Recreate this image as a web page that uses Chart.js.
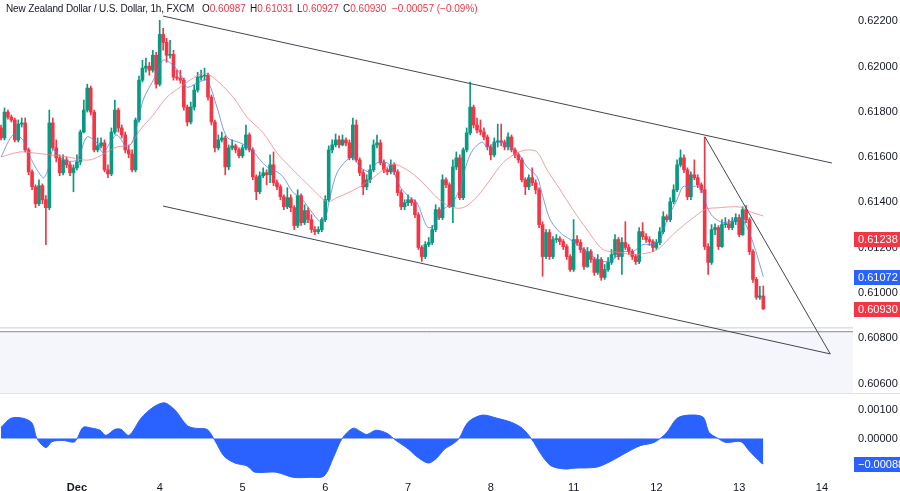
<!DOCTYPE html>
<html>
<head>
<meta charset="utf-8">
<script src="https://cdn.jsdelivr.net/npm/chart.js@4.4.0/dist/chart.umd.min.js"></script>
<style>
  body { margin: 0; background: #fff; font-family: "Liberation Sans", Arial, sans-serif; }
  #wrap { position: relative; width: 900px; height: 491px; overflow: hidden; }
  #priceCanvas { position: absolute; left: 0; top: 0; }
  #oscCanvas { position: absolute; left: 0; top: 394px; }
  #sep { position: absolute; left: 0; top: 393px; width: 900px; height: 1px; background: #e0e3eb; }
  .lg { position: absolute; top: 2px; font-size: 10px; line-height: 13px; color: #131722; white-space: nowrap; }
  .lg .v { color: #f23645; }
</style>
</head>
<body>
<div id="wrap">
  <canvas id="priceCanvas" width="900" height="394"></canvas>
  <div id="sep"></div>
  <canvas id="oscCanvas" width="900" height="97"></canvas>
  <div class="lg" style="left:6px;letter-spacing:-0.15px">New Zealand Dollar / U.S. Dollar, 1h, FXCM</div>
  <div class="lg" style="left:202px">O<span class="v">0.60987</span></div>
  <div class="lg" style="left:250px">H<span class="v">0.61031</span></div>
  <div class="lg" style="left:297px">L<span class="v">0.60927</span></div>
  <div class="lg" style="left:343px">C<span class="v">0.60930</span></div>
  <div class="lg" style="left:392px"><span class="v">−0.00057 (−0.09%)</span></div>
</div>
<script>
// hourly candles, index 0 = Nov 30 ~02:00, Dec 1 00:00 = 22
firstOpen = 0.61729;
closes = [
0.61685,0.61799,0.61777,0.61764,0.61676,0.61746,0.61751,0.61632,0.61535,0.61469,
0.61394,0.61474,0.61412,0.61377,0.61751,0.61641,0.61597,0.61531,0.61588,0.61566,
0.61531,0.61553,0.61579,0.61711,0.61808,0.61905,0.61799,0.61632,0.61650,0.61663,
0.61544,0.61526,0.61711,0.61808,0.61729,0.61698,0.61632,0.61614,0.61544,0.61764,
0.61940,0.61993,0.62002,0.61984,0.62050,0.61922,0.62142,0.62107,0.62050,0.62054,
0.61953,0.61949,0.61940,0.61821,0.61755,0.61821,0.61896,0.61953,0.61958,0.61962,
0.61865,0.61755,0.61641,0.61676,0.61685,0.61557,0.61641,0.61650,0.61632,0.61606,
0.61641,0.61698,0.61632,0.61513,0.61447,0.61518,0.61531,0.61522,0.61566,0.61487,
0.61469,0.61425,0.61381,0.61421,0.61377,0.61298,0.61430,0.61311,0.61364,0.61324,
0.61280,0.61271,0.61280,0.61324,0.61412,0.61632,0.61654,0.61676,0.61654,0.61676,
0.61663,0.61597,0.61742,0.61588,0.61531,0.61469,0.61500,0.61544,0.61654,0.61663,
0.61575,0.61544,0.61535,0.61566,0.61535,0.61443,0.61381,0.61399,0.61412,0.61399,
0.61346,0.61201,0.61161,0.61214,0.61223,0.61280,0.61368,0.61333,0.61500,0.61478,
0.61381,0.61557,0.61597,0.61421,0.61632,0.61707,0.61821,0.61742,0.61720,0.61711,
0.61689,0.61645,0.61610,0.61667,0.61672,0.61667,0.61645,0.61689,0.61632,0.61610,
0.61588,0.61500,0.61469,0.61509,0.61487,0.61456,0.61302,0.61161,0.61267,0.61161,
0.61236,0.61240,0.61227,0.61205,0.61161,0.61104,0.61236,0.61223,0.61192,0.61117,
0.61183,0.61148,0.61091,0.61148,0.61069,0.61104,0.61135,0.61170,0.61236,0.61161,
0.61223,0.61201,0.61183,0.61161,0.61139,0.61271,0.61249,0.61236,0.61227,0.61201,
0.61223,0.61271,0.61337,0.61324,0.61403,0.61456,0.61566,0.61597,0.61544,0.61425,
0.61522,0.61509,0.61478,0.61456,0.61205,0.61135,0.61280,0.61289,0.61205,0.61302,
0.61306,0.61289,0.61315,0.61333,0.61258,0.61368,0.61324,0.61183,0.61060,0.60981,
0.60987,0.60930
];
highs = [
0.61742,0.61817,0.61808,0.61786,0.61773,0.61764,0.61773,0.61773,0.61641,0.61544,
0.61478,0.61500,0.61482,0.61430,0.61808,0.61773,0.61676,0.61610,0.61610,0.61601,
0.61579,0.61566,0.61610,0.61720,0.61852,0.61922,0.61914,0.61808,0.61685,0.61685,
0.61676,0.61566,0.61729,0.61852,0.61817,0.61742,0.61711,0.61654,0.61632,0.61773,
0.61958,0.62028,0.62037,0.62019,0.62072,0.62063,0.62204,0.62169,0.62125,0.62116,
0.62072,0.61984,0.61984,0.61949,0.61830,0.61843,0.61918,0.61975,0.61984,0.61993,
0.61971,0.61874,0.61764,0.61698,0.61711,0.61694,0.61654,0.61676,0.61658,0.61641,
0.61654,0.61742,0.61707,0.61641,0.61522,0.61535,0.61553,0.61544,0.61610,0.61623,
0.61500,0.61478,0.61434,0.61465,0.61434,0.61386,0.61456,0.61438,0.61390,0.61377,
0.61346,0.61293,0.61293,0.61333,0.61430,0.61650,0.61676,0.61702,0.61694,0.61698,
0.61685,0.61676,0.61773,0.61764,0.61597,0.61544,0.61522,0.61566,0.61676,0.61698,
0.61676,0.61588,0.61553,0.61588,0.61575,0.61544,0.61456,0.61412,0.61434,0.61421,
0.61412,0.61355,0.61210,0.61227,0.61245,0.61298,0.61390,0.61377,0.61522,0.61509,
0.61487,0.61588,0.61623,0.61610,0.61641,0.61729,0.61931,0.61830,0.61773,0.61764,
0.61729,0.61698,0.61654,0.61685,0.61746,0.61746,0.61676,0.61707,0.61698,0.61641,
0.61619,0.61597,0.61509,0.61522,0.61553,0.61500,0.61465,0.61315,0.61280,0.61280,
0.61249,0.61258,0.61249,0.61236,0.61214,0.61170,0.61324,0.61254,0.61236,0.61201,
0.61201,0.61192,0.61157,0.61170,0.61157,0.61126,0.61157,0.61192,0.61258,0.61245,
0.61245,0.61315,0.61214,0.61192,0.61170,0.61289,0.61311,0.61262,0.61249,0.61236,
0.61236,0.61289,0.61359,0.61346,0.61421,0.61478,0.61588,0.61632,0.61610,0.61553,
0.61535,0.61588,0.61522,0.61487,0.61689,0.61218,0.61302,0.61306,0.61298,0.61324,
0.61333,0.61324,0.61333,0.61350,0.61346,0.61381,0.61386,0.61333,0.61192,0.61069,
0.61029,0.61031
];
lows = [
0.61676,0.61676,0.61768,0.61755,0.61667,0.61667,0.61733,0.61623,0.61522,0.61456,
0.61377,0.61386,0.61394,0.61214,0.61368,0.61632,0.61579,0.61518,0.61522,0.61553,
0.61518,0.61447,0.61544,0.61566,0.61707,0.61799,0.61786,0.61623,0.61623,0.61641,
0.61535,0.61509,0.61518,0.61702,0.61711,0.61685,0.61619,0.61597,0.61535,0.61535,
0.61755,0.61931,0.61975,0.61962,0.61975,0.61905,0.61914,0.62072,0.62019,0.62037,
0.61940,0.61940,0.61927,0.61808,0.61738,0.61746,0.61808,0.61887,0.61940,0.61940,
0.61852,0.61742,0.61623,0.61632,0.61667,0.61522,0.61544,0.61632,0.61619,0.61597,
0.61597,0.61632,0.61623,0.61500,0.61412,0.61438,0.61509,0.61478,0.61487,0.61474,
0.61456,0.61412,0.61368,0.61372,0.61359,0.61280,0.61289,0.61298,0.61302,0.61311,
0.61267,0.61258,0.61262,0.61271,0.61315,0.61403,0.61619,0.61645,0.61641,0.61650,
0.61650,0.61588,0.61588,0.61579,0.61518,0.61434,0.61456,0.61487,0.61535,0.61641,
0.61566,0.61531,0.61522,0.61526,0.61522,0.61430,0.61368,0.61368,0.61386,0.61386,
0.61333,0.61192,0.61139,0.61152,0.61205,0.61214,0.61271,0.61324,0.61324,0.61465,
0.61377,0.61311,0.61544,0.61412,0.61412,0.61623,0.61698,0.61729,0.61707,0.61698,
0.61676,0.61632,0.61588,0.61601,0.61645,0.61650,0.61632,0.61632,0.61623,0.61597,
0.61575,0.61491,0.61434,0.61456,0.61474,0.61438,0.61289,0.61074,0.61152,0.61148,
0.61152,0.61223,0.61214,0.61192,0.61148,0.61095,0.61095,0.61210,0.61179,0.61104,
0.61113,0.61135,0.61078,0.61082,0.61056,0.61060,0.61095,0.61126,0.61157,0.61148,
0.61082,0.61192,0.61170,0.61148,0.61126,0.61130,0.61236,0.61223,0.61210,0.61183,
0.61192,0.61214,0.61262,0.61315,0.61315,0.61394,0.61447,0.61557,0.61531,0.61412,
0.61412,0.61500,0.61465,0.61443,0.61192,0.61082,0.61126,0.61258,0.61192,0.61201,
0.61289,0.61280,0.61280,0.61302,0.61249,0.61254,0.61311,0.61170,0.61047,0.60972,
0.60972,0.60927
];

// moving averages: [candle index, price]
fastMA = [
[0,0.61601],[3.5,0.61698],[6.4,0.61676],[8.4,0.61601],[12.2,0.61509],[13.6,0.61544],[15.1,0.61632],
[18,0.61588],[22,0.61588],[24.9,0.61689],[27.8,0.61663],[29.6,0.61619],[31.6,0.61663],[33.6,0.61698],
[36.5,0.61645],[38.3,0.61676],[41.2,0.61852],[44.6,0.61953],[47,0.62028],[49.9,0.62006],[52.5,0.61953],
[53.9,0.61909],[56.8,0.61927],[59.7,0.61940],[62.6,0.61821],[65.5,0.61689],[69.3,0.61663],[72.2,0.61641],
[75.1,0.61588],[77.1,0.61557],[80,0.61535],[81.8,0.61513],[84.7,0.61443],[86.7,0.61425],[89.6,0.61368],
[92.5,0.61315],[93.9,0.61324],[95.4,0.61425],[97.4,0.61531],[100.3,0.61588],[102,0.61601],[104.1,0.61557],
[107,0.61535],[109,0.61575],[111.9,0.61575],[113.6,0.61544],[115.7,0.61469],[118.6,0.61421],[120.6,0.61399],
[123.5,0.61293],[125.2,0.61293],[128.1,0.61368],[131,0.61399],[133.1,0.61469],[135.1,0.61575],[136.8,0.61632],
[139.5,0.61667],[140.9,0.61645],[143.8,0.61667],[146.7,0.61654],[149.6,0.61623],[152.5,0.61557],[155.4,0.61513],
[157.1,0.61425],[159.2,0.61324],[162.1,0.61267],[165,0.61236],[167.9,0.61205],[170.8,0.61170],[174.5,0.61139],
[177.4,0.61148],[180.3,0.61183],[183.2,0.61183],[186.1,0.61214],[189,0.61214],[191.1,0.61236],[193.1,0.61324],
[196,0.61412],[197.7,0.61469],[199.8,0.61469],[202.7,0.61469],[204.7,0.61381],[206.4,0.61337],[209.3,0.61311],
[213.4,0.61324],[215.1,0.61324],[218,0.61223],[221,0.61072]
];
slowMA = [
[0,0.61601],[5.5,0.61623],[9.3,0.61619],[19.1,0.61601],[25.8,0.61588],[33.6,0.61645],[37.4,0.61654],
[40.3,0.61720],[44.1,0.61786],[48.1,0.61865],[51.9,0.61909],[55.7,0.61949],[58.6,0.61971],[61.5,0.61953],
[67.3,0.61865],[71.3,0.61777],[76,0.61707],[80,0.61619],[83.8,0.61557],[86.7,0.61513],[90.5,0.61456],
[94.5,0.61403],[97.4,0.61421],[101.2,0.61447],[105,0.61478],[109,0.61522],[112.8,0.61566],[114.8,0.61566],
[118.6,0.61535],[122.3,0.61487],[126.4,0.61421],[130.2,0.61381],[134,0.61377],[138,0.61425],[141.8,0.61500],
[145.5,0.61575],[149.6,0.61619],[152.5,0.61632],[155.4,0.61623],[158.3,0.61544],[162.1,0.61456],[165.8,0.61368],
[169.9,0.61280],[174.5,0.61192],[179.5,0.61179],[183.2,0.61170],[188.2,0.61179],[191.1,0.61201],[194.8,0.61258],
[198.9,0.61311],[202.7,0.61355],[204.7,0.61372],[208.5,0.61377],[212.2,0.61381],[215.1,0.61377],[217.2,0.61359],
[221,0.61340]
];

// oscillator (lower pane): [candle index, value]
oscValues = [
[0,0.00039],[2.9,0.00071],[6.4,0.00071],[9,0.00054],[10.4,0],[13,-0.00032],[14.8,-0.00011],[18,-0.00007],
[21.4,-0.00011],[23.8,0.00039],[26.4,0.00036],[28.7,0.00029],[30.4,0.00011],[33,0.00032],[34.8,0.00032],
[37.1,0.00011],[40.6,0.00071],[43.8,0.00107],[47.3,0.00125],[50.4,0.00100],[53.9,0.00046],[56.2,0.00036],
[59.7,0.00032],[62,-0.00007],[64.6,-0.00061],[67.8,-0.00086],[71.3,-0.00096],[73.6,-0.00118],[79.7,-0.00118],
[84.7,-0.00136],[89.6,-0.00136],[93.6,-0.00132],[96.3,-0.00068],[98.9,0],[102.1,0.00036],[104.7,0.00021],
[106.1,0.00014],[108.7,0.00029],[111.9,0.00018],[114.5,-0.00007],[118,-0.00036],[120.3,-0.00061],[123.8,-0.00086],
[126.1,-0.00071],[128.7,-0.00036],[131.1,-0.00018],[132.8,0],[135.4,0.00057],[139.5,0.00082],[143.8,0.00071],
[147.9,0.00057],[151.1,0.00036],[153.7,0],[156.9,-0.00061],[159.5,-0.00096],[163.5,-0.00107],[166.1,-0.00104],
[172.8,-0.00100],[176.9,-0.00079],[181.2,-0.00050],[185.3,-0.00025],[189.3,-0.00014],[192.8,0.00018],[196,0.00071],
[199.5,0.00082],[203.5,0.00075],[205.3,0.00021],[207.9,0],[210.2,-0.00014],[214.5,-0.00011],[216.9,-0.00043],
[220.6,-0.00088],[221,-0.00088]
];

// drawn trend lines: [candle index, price]
upperChannel = [[46.96,0.62223],[240.9,0.61574]];
lowerChannel = [[46.96,0.61384],[240.4,0.60731]];
steepLine = [[204.1,0.61689],[240.4,0.60731]];
zoneTop = 0.60829;
zoneLine = 0.60846;

priceTicks = [0.622,0.620,0.618,0.616,0.614,0.612,0.610,0.608,0.606];
oscTicks = [0.001,0];
dayTickIdx = [22,46,70,94,118,142,166,190,214,238];
dayTickLabels = ['Dec','4','5','6','7','8','11','12','13','14'];
priceMarks = [[0.61238,'#f23645'],[0.61072,'#2962ff'],[0.60930,'#f23645']];
oscMarks = [[-0.00088,'#2962ff']];

xMin = -0.3;
xMax = 247;
axisFont = {family: '"Liberation Sans", Arial, sans-serif', size: 11};

opens = closes.map((c, i) => i == 0 ? firstOpen : closes[i-1]);
candleColors = closes.map((c, i) => c >= opens[i] ? '#089981' : '#f23645');
toXY = arr => arr.map(p => ({x: p[0], y: p[1]}));

// price labels in the right axis
var axisBoxes = {
    id: 'axisBoxes',
    afterDraw(chart, args, opts) {
        var ctx = chart.ctx, ys = chart.scales.y, area = chart.chartArea;
        opts.marks.forEach(m => {
            var py = Math.round(ys.getPixelForValue(m[0]));
            ctx.save();
            ctx.fillStyle = m[1];
            ctx.fillRect(area.right + 1, py - 7, chart.width - area.right - 1, 15);
            ctx.fillStyle = '#fff';
            ctx.font = '11px "Liberation Sans", Arial, sans-serif';
            ctx.textBaseline = 'middle';
            ctx.textAlign = 'left';
            var txt = m[0].toFixed(5).replace('-', '\u2212');
            ctx.fillText(txt, area.right + 5, py + 0.5);
            ctx.restore();
        });
    }
};

function fixY(s) { s.width = 47; s.paddingTop = 0; s.paddingBottom = 0; }

var priceChart = new Chart(document.getElementById('priceCanvas'), {
    type: 'bar',
    data: {
        datasets: [
            {type: 'line', data: toXY([[xMin, zoneTop], [xMax, zoneTop]]), fill: 'start',
             backgroundColor: '#f5f6fb', borderColor: '#868993', borderWidth: 1, pointRadius: 0, order: 10},
            {type: 'line', data: toXY([[xMin, zoneLine], [xMax, zoneLine]]),
             borderColor: '#c9ccd6', borderWidth: 1, pointRadius: 0, order: 9},
            {data: closes.map((c, i) => ({x: i, y: [lows[i], highs[i]]})), backgroundColor: candleColors,
             barThickness: 1, grouped: false, order: 3},
            {data: closes.map((c, i) => ({x: i, y: [opens[i], c]})), backgroundColor: candleColors,
             barThickness: 3, minBarLength: 1, grouped: false, order: 2},
            {type: 'line', data: toXY(slowMA), borderColor: 'rgba(236,128,136,0.75)', borderWidth: 1,
             pointRadius: 0, tension: 0.3, order: 1},
            {type: 'line', data: toXY(fastMA), borderColor: 'rgba(80,125,220,0.75)', borderWidth: 1,
             pointRadius: 0, tension: 0.3, order: 1},
            {type: 'line', data: toXY(upperChannel), borderColor: '#434651', borderWidth: 1, pointRadius: 0, order: 0},
            {type: 'line', data: toXY(lowerChannel), borderColor: '#434651', borderWidth: 1, pointRadius: 0, order: 0},
            {type: 'line', data: toXY(steepLine), borderColor: '#434651', borderWidth: 1, pointRadius: 0, order: 0}
        ]
    },
    options: {
        responsive: false,
        animation: false,
        devicePixelRatio: 1,
        layout: {padding: 0},
        plugins: {legend: {display: false}, tooltip: {enabled: false}, axisBoxes: {marks: priceMarks}},
        scales: {
            x: {type: 'linear', min: xMin, max: xMax, offset: false, display: false},
            y: {
                position: 'right', min: 0.60554, max: 0.62294,
                grid: {display: false, drawTicks: false}, border: {display: false},
                afterBuildTicks: s => { s.ticks = priceTicks.map(v => ({value: v})); },
                afterFit: fixY,
                ticks: {padding: 5, color: '#131722', font: axisFont, callback: v => v.toFixed(5)}
            }
        }
    },
    plugins: [axisBoxes]
});

var oscChart = new Chart(document.getElementById('oscCanvas'), {
    type: 'line',
    data: {
        datasets: [
            {data: toXY(oscValues), fill: 'origin', backgroundColor: '#2962ff', borderColor: '#2962ff',
             borderWidth: 1, pointRadius: 0, tension: 0.3}
        ]
    },
    options: {
        responsive: false,
        animation: false,
        devicePixelRatio: 1,
        layout: {padding: 0},
        plugins: {legend: {display: false}, tooltip: {enabled: false}, axisBoxes: {marks: oscMarks}},
        scales: {
            x: {
                type: 'linear', min: xMin, max: xMax, offset: false,
                grid: {display: false, drawTicks: false}, border: {display: false},
                afterBuildTicks: s => { s.ticks = dayTickIdx.map(v => ({value: v})); },
                afterFit: s => { s.height = 12; s.paddingLeft = 0; s.paddingRight = 0; },
                ticks: {
                    padding: 2, color: '#131722', autoSkip: false, maxRotation: 0,
                    font: c => (c.index == 0 ? {family: axisFont.family, size: 11, weight: 'bold'} : axisFont),
                    callback: (v, i) => dayTickLabels[i]
                }
            },
            y: {
                position: 'right', min: -0.00142, max: 0.00156,
                grid: {display: false, drawTicks: false}, border: {display: false},
                afterBuildTicks: s => { s.ticks = oscTicks.map(v => ({value: v})); },
                afterFit: fixY,
                ticks: {padding: 5, color: '#131722', font: axisFont, callback: v => v.toFixed(5)}
            }
        }
    },
    plugins: [axisBoxes]
});
</script>
</body>
</html>
